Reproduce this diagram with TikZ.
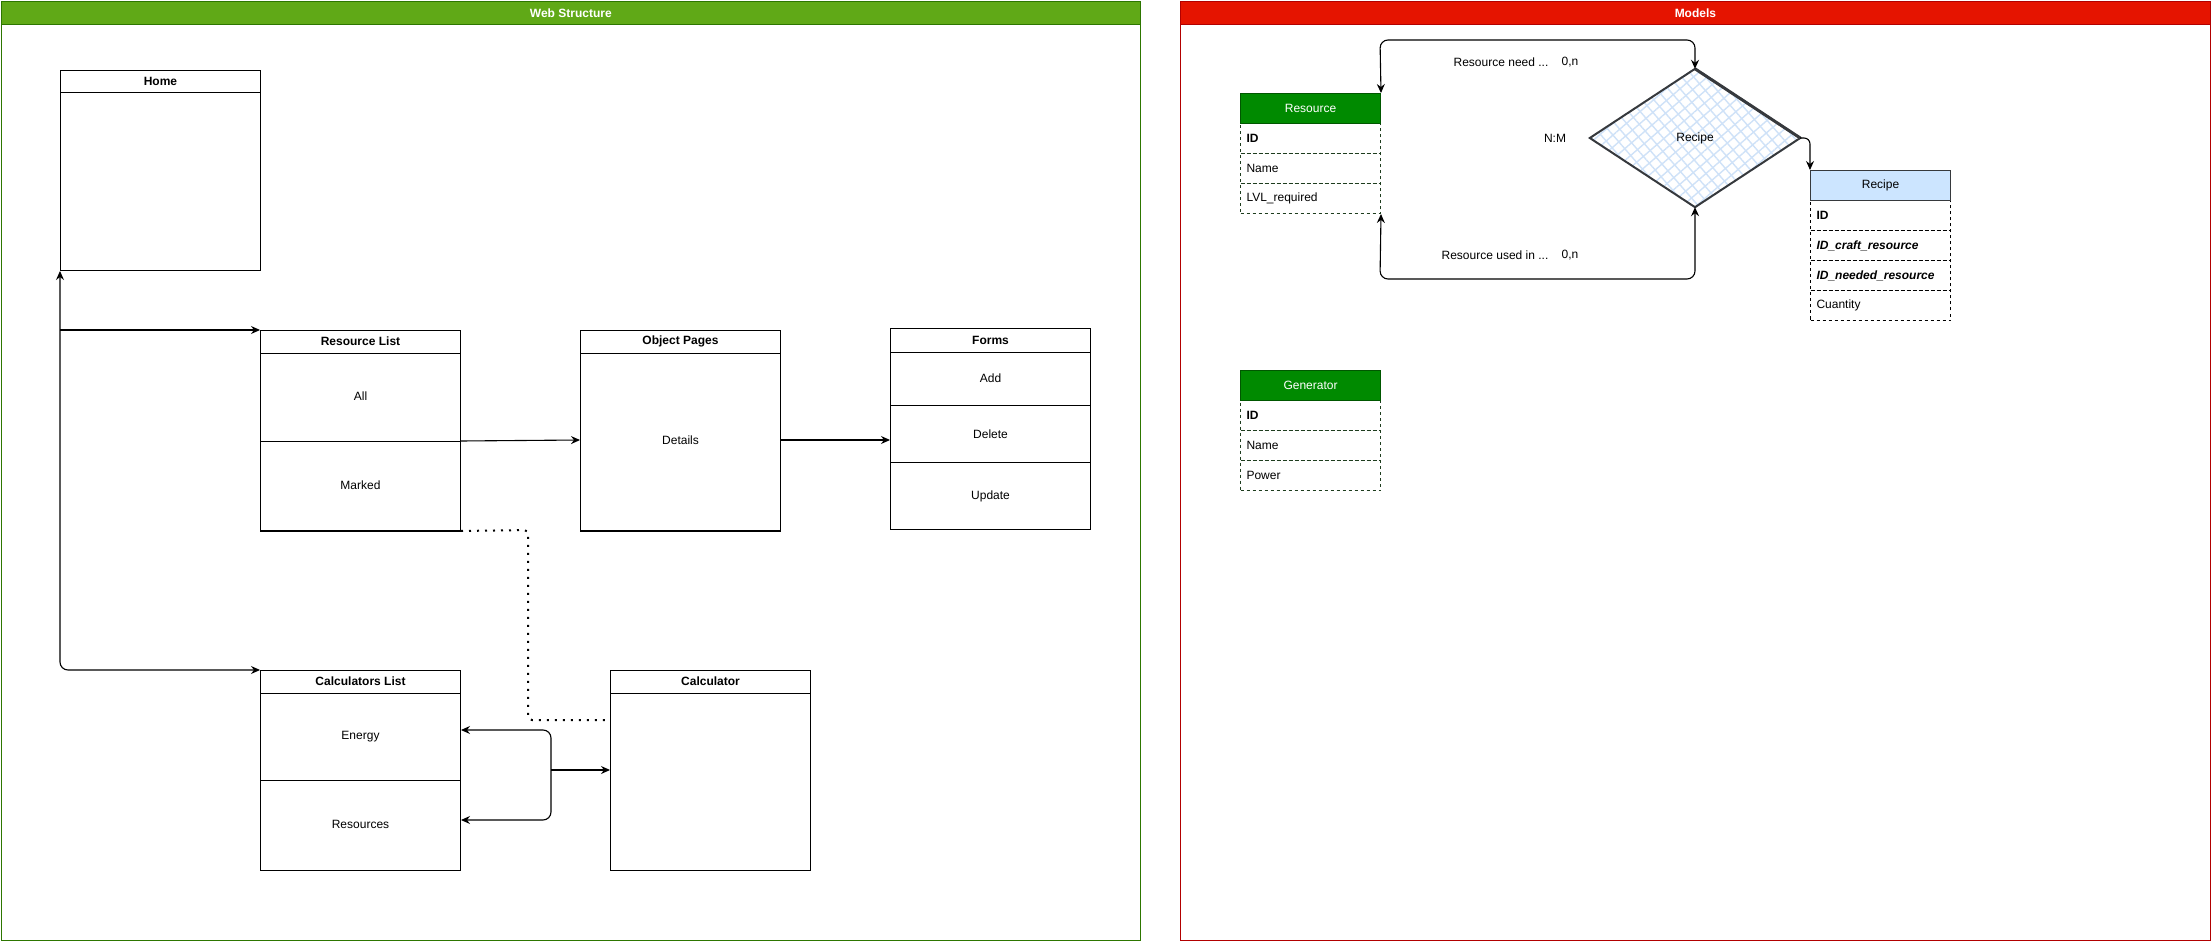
\documentclass[tikz,border=0pt]{standalone}
\usepackage{fontspec}
\setmainfont{Liberation Sans}
\usetikzlibrary{arrows.meta,patterns.meta,calc}
\definecolor{wsfill}{HTML}{60A917}
\definecolor{wsline}{HTML}{2D7600}
\definecolor{mfill}{HTML}{E51400}
\definecolor{mline}{HTML}{B20000}
\definecolor{gfill}{HTML}{008A00}
\definecolor{gline}{HTML}{005700}
\definecolor{rowline}{HTML}{1E3D1E}
\definecolor{bfill}{HTML}{CCE5FF}
\definecolor{dline}{HTML}{36393D}
\definecolor{hatchc}{HTML}{CFE2F8}
\newcommand{\dfont}{\fontsize{12}{14}\selectfont}
\begin{document}
\begin{tikzpicture}[x=1pt,y=-1pt,
  >={Stealth[length=9pt,width=8pt,inset=3pt]},
  every node/.style={font=\dfont},
  box/.style={draw,line width=1pt,anchor=north west,minimum width=200pt,inner sep=0pt},
  ttl/.style={font=\dfont\bfseries,inner sep=0pt},
  lbl/.style={inner sep=0pt},
  ln/.style={line width=1pt},
  arr/.style={line width=1.1pt,->},
  dblarr/.style={line width=1.1pt,<->},
  dots/.style={line width=2pt,dash pattern=on 2pt off 6pt},
  panel/.style={line width=1.3pt,anchor=north west,inner sep=0pt},
  ptitle/.style={panel,minimum height=23pt,text=white,font=\dfont\bfseries},
  hdrG/.style={draw=gline,fill=gfill,text=white,line width=1pt,anchor=north west,minimum width=140pt,minimum height=30pt,inner sep=0pt},
  hdrB/.style={draw=dline,fill=bfill,text=black,line width=1pt,anchor=north west,minimum width=140pt,minimum height=30pt,inner sep=0pt},
  rowG/.style={draw=rowline,dash pattern=on 3pt off 3pt,line width=1pt,anchor=north west,minimum height=30pt,text width=128pt,inner xsep=6pt,inner ysep=0pt,align=left},
  rowB/.style={rowG,draw=black}
]
\useasboundingbox (0,0) rectangle (2211,941);

% ---------- panels ----------
\node[panel,draw=wsline,minimum width=1139pt,minimum height=939pt] (ws) at (0.65,0.65) {};
\node[ptitle,draw=wsline,fill=wsfill,minimum width=1139pt] (wsT) at (0.65,0.65) {Web Structure};
\node[panel,draw=mline,minimum width=1029.5pt,minimum height=939pt] (mp) at (1180,0.65) {};
\node[ptitle,draw=mline,fill=mfill,minimum width=1029.5pt] (mpT) at (1180,0.65) {Models};

% ---------- Web structure ----------
\node[box,minimum height=200pt] (home) at (60,70) {};
\draw[ln] ($(home.north west)+(0,23)$) -- ($(home.north east)+(0,23)$);
\node[ttl] (homeT) at ($(home.north)+(0,11.5)$) {Home};

\node[box,minimum height=200pt] (rl) at (260,330) {};
\draw[ln] ($(rl.north west)+(0,23)$) -- ($(rl.north east)+(0,23)$);
\draw[ln] ($(rl.north west)+(0,111)$) -- ($(rl.north east)+(0,111)$);
\draw[line width=2pt] (rl.south west) -- (rl.south east);
\node[ttl] (rlT) at ($(rl.north)+(0,11.5)$) {Resource List};
\node[lbl] (rlAll) at ($(rl.north)+(0,66)$) {All};
\node[lbl] (rlMarked) at ($(rl.north)+(0,155)$) {Marked};

\node[box,minimum height=200pt] (op) at (580,330) {};
\draw[ln] ($(op.north west)+(0,23)$) -- ($(op.north east)+(0,23)$);
\draw[line width=2pt] (op.south west) -- (op.south east);
\node[ttl] (opT) at ($(op.north)+(0,11.5)$) {Object Pages};
\node[lbl] (opD) at ($(op.north)+(0,110)$) {Details};

\node[box,minimum height=201pt] (fm) at (890,328) {};
\draw[ln] ($(fm.north west)+(0,24)$) -- ($(fm.north east)+(0,24)$);
\draw[ln] ($(fm.north west)+(0,77)$) -- ($(fm.north east)+(0,77)$);
\draw[ln] ($(fm.north west)+(0,134)$) -- ($(fm.north east)+(0,134)$);
\node[ttl] (fmT) at ($(fm.north)+(0,12)$) {Forms};
\node[lbl] (fmAdd) at ($(fm.north)+(0,50)$) {Add};
\node[lbl] (fmDel) at ($(fm.north)+(0,106)$) {Delete};
\node[lbl] (fmUpd) at ($(fm.north)+(0,168)$) {Update};

\node[box,minimum height=200pt] (cl) at (260,670) {};
\draw[ln] ($(cl.north west)+(0,23)$) -- ($(cl.north east)+(0,23)$);
\draw[ln] ($(cl.north west)+(0,110)$) -- ($(cl.north east)+(0,110)$);
\node[ttl] (clT) at ($(cl.north)+(0,11.5)$) {Calculators List};
\node[lbl] (clE) at ($(cl.north)+(0,67)$) {Energy};
\node[lbl] (clR) at ($(cl.north)+(0,154)$) {Resources};

\node[box,minimum height=200pt] (calc) at (610,670) {};
\draw[ln] ($(calc.north west)+(0,23)$) -- ($(calc.north east)+(0,23)$);
\node[ttl] (calcT) at ($(calc.north)+(0,11.5)$) {Calculator};

% connectors
\draw[dblarr,rounded corners=8pt] (home.south west) -- (home.south west |- cl.north west) -- (cl.north west);
\draw[arr] (home.south west |- rl.north west) -- (rl.north west);
\draw[arr] ($(rl.north east)+(0,111)$) -- ($(op.north west)+(0,110)$);
\draw[arr] ($(op.north east)+(0,110)$) -- ($(fm.north west)+(0,112)$);
\coordinate (dA) at (528,530);
\coordinate (dB) at (528,720);
\draw[dots,rounded corners=4pt] (rl.south east) -- (dA) -- (dB) -- (dB -| calc.west);
\draw[dblarr,rounded corners=8pt] ($(cl.north east)+(0,60)$) -- ($(cl.north east)+(90,60)$) -- ($(cl.north east)+(90,150)$) -- ($(cl.north east)+(0,150)$);
\draw[arr] ($(cl.north east)+(90,100)$) -- ($(calc.north west)+(0,100)$);

% ---------- Models ----------
\node[rowG] (resID) at (1240,123) {\textbf{ID}};
\node[rowG] (resName) at (1240,153) {Name};
\node[rowG] (resLvl) at (1240,183) {LVL\_required};
\node[hdrG] (resH) at (1240,93) {Resource};

\node[rowG] (genID) at (1240,400) {\textbf{ID}};
\node[rowG] (genName) at (1240,430) {Name};
\node[rowG] (genPow) at (1240,460) {Power};
\node[hdrG] (genH) at (1240,370) {Generator};

\node[rowB] (recID) at (1810,200) {\textbf{ID}};
\node[rowB] (recCraft) at (1810,230) {\textbf{\textit{ID\_craft\_resource}}};
\node[rowB] (recNeed) at (1810,260) {\textbf{\textit{ID\_needed\_resource}}};
\node[rowB] (recQty) at (1810,290) {Cuantity};
\node[hdrB] (recH) at (1810,170) {Recipe};

% diamond
\node[minimum width=210pt,minimum height=138pt,inner sep=0pt] (dia) at (1695,138) {};
\fill[white] (dia.north) -- (dia.east) -- (dia.south) -- (dia.west) -- cycle;
\path[pattern={Lines[angle=41,distance=9pt,line width=1.4pt]},pattern color=hatchc] (dia.north) -- (dia.east) -- (dia.south) -- (dia.west) -- cycle;
\path[pattern={Lines[angle=-49,distance=9pt,line width=1.4pt]},pattern color=hatchc] (dia.north) -- (dia.east) -- (dia.south) -- (dia.west) -- cycle;
\draw[dline,line width=2pt,line join=miter] (dia.north) -- (dia.east) -- (dia.south) -- (dia.west) -- cycle;
\draw[dline,line width=3pt] (dia.north) -- (dia.east);
\node[lbl] (diaT) at (dia.center) {Recipe};

\coordinate (eT) at (1380,40);
\coordinate (eB) at (1380,279);
\draw[dblarr,rounded corners=8pt] (resH.north east) -- (eT) -- (eT -| dia.north) -- (dia.north);
\draw[dblarr,rounded corners=8pt] (resLvl.south east) -- (eB) -- (eB -| dia.south) -- (dia.south);
\draw[arr,rounded corners=6pt] (dia.east) -- (dia.east -| recH.north west) -- (recH.north west);

\node[lbl] (lNeed) at (1501,62) {Resource need ...};
\node[lbl] (lNeedC) at (1570,62) {0,n};
\node[lbl] (lUsed) at (1495,255) {Resource used in ...};
\node[lbl] (lUsedC) at (1570,255) {0,n};
\node[lbl] (lNM) at (1555,138) {N:M};
\end{tikzpicture}
\end{document}
